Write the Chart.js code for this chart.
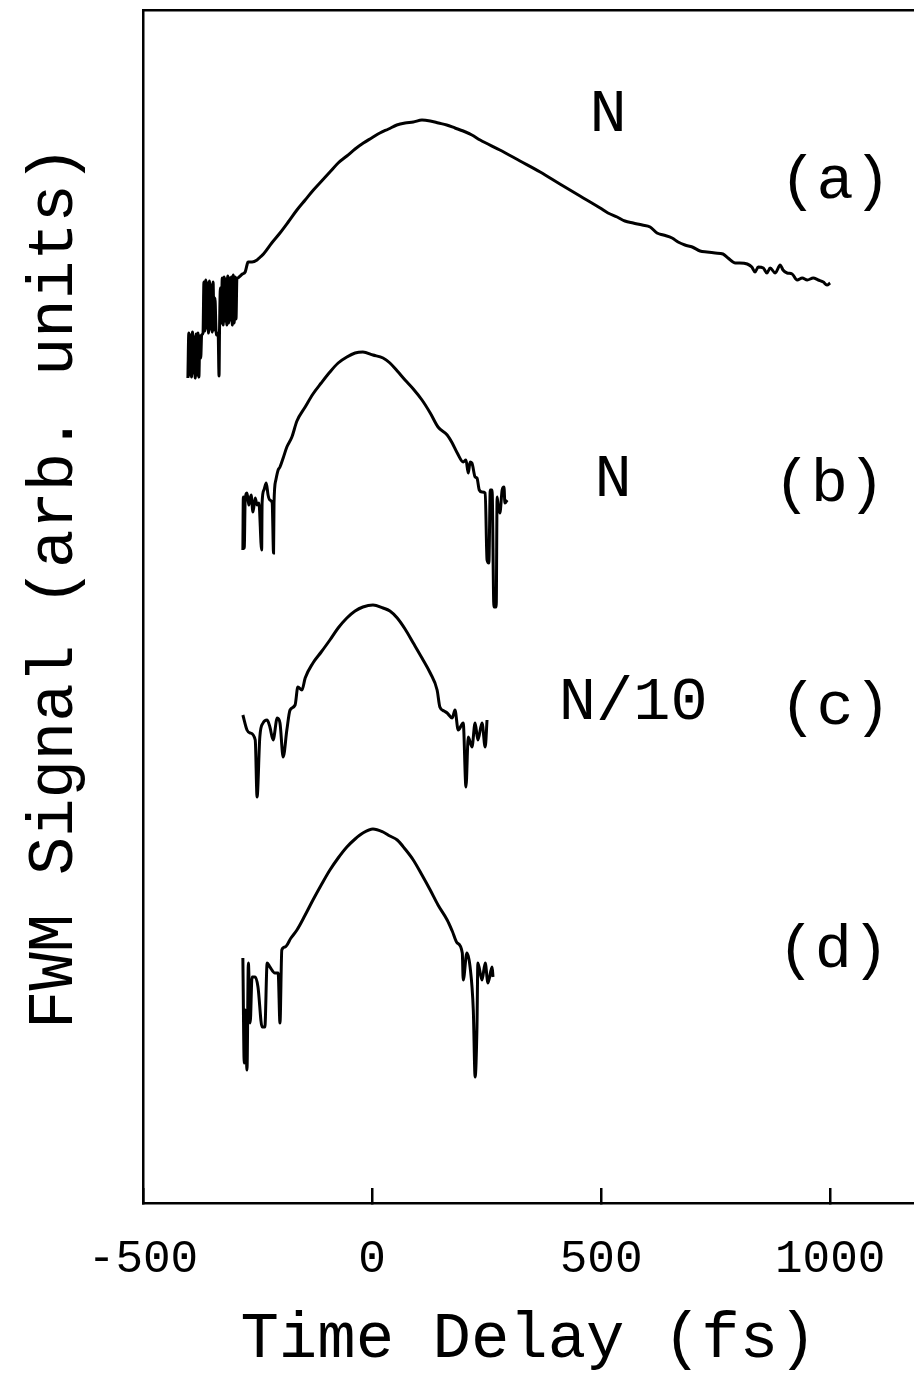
<!DOCTYPE html>
<html>
<head>
<meta charset="utf-8">
<script src="https://cdn.jsdelivr.net/npm/chart.js@4.4.1/dist/chart.umd.min.js"></script>
<style>
  html, body { margin: 0; padding: 0; background: #fff; overflow: hidden; }
  #wrap { width: 914px; height: 1384px; position: relative; }
</style>
</head>
<body>
<div id="wrap"><canvas id="c"></canvas></div>
<script>
// ---- Data (time delay in fs, FWM signal in arbitrary units with vertical offsets) ----
const aTime = [-402,-400,-398,-396,-394,-392,-390,-388,-386,-384,-382,-380,-378,-376,-374,-372,
  -369,-367,-365,-363,-361,-359,-357,-355,-353,-351,-349,-347,-345,-343,-340,-336,-334,-333,
  -331,-329,-327,-325,-323,-321,-319,-317,-315,-313,-311,-309,-307,-305,-303,-301,-299,-297,-295,-293,
  -288,-283,-277,-273,-271,-262,-251,-244,
  -237,-219,-201,-183,-164,-146,-128,-110,-92,-74,-55,-37,-19,-1,17,36,54,72,90,109,127,145,163,181,199,218,236,
  279,323,367,410,454,498,515,535,552,570,590,607,622,636,655,668,683,699,716,731,749,766,777,793,803,819,829,836,843,854,862,869,880,891,897,906,917,928,939,950,963,974,985,993,1000];
const aSignal = [825,870,828,868,826,871,830,866,825,869,828,870,826,867,845,868,
  870,921,872,923,875,920,870,922,874,918,871,921,873,905,868,870,827,871,
  915,880,925,878,926,882,924,878,927,880,925,883,926,878,928,880,926,884,925,925,
  927,929,931,938,941,941,943,946,
  949,960,970,981,993,1003,1013,1022,1031,1040,1047,1054,1060,1065,1070,1074,1078,1080,1081,1083,1082,1080,1078,1075,1072,1068,1063,
  1053,1042,1031,1019,1007,995,990,986,982,980,978,976,970,968,965,961,958,956,952,951,950,949,945,940,940,939,936,931,936,935,930,935,930,938,933,930,929,923,925,923,925,923,921,918,920];

const bTime = [-282,-281,-279,-277,-273,-269,-264,-260,-255,-251,-247,-241,-240,-236,-231,-227,-223,-218,-215,-214,-210,-205,-201,-194,-186,-175,-164,-146,-129,-111,-92,-74,-55,-37,-20,2,24,39,55,72,90,109,127,144,164,175,186,199,205,210,214,218,225,229,234,240,247,251,255,258,262,266,271,273,275,279,284,288,290,295,301];
const bSignal = [653,706,655,703,710,698,708,691,705,698,700,653,700,713,720,708,703,700,650,700,723,733,736,745,756,766,782,796,809,820,831,840,846,850,851,848,845,840,832,823,814,803,790,776,768,760,750,741,743,730,741,740,726,725,713,711,710,643,640,713,713,596,596,706,698,690,713,716,700,703];

const cTime = [-282,-273,-266,-255,-251,-245,-238,-229,-223,-216,-207,-201,-194,-186,-179,-168,-162,-153,-146,-129,-111,-92,-74,-55,-37,-20,2,24,39,55,72,90,109,127,142,148,157,164,175,181,188,199,205,210,218,225,231,240,247,251];
const cSignal = [488,473,470,463,406,466,480,483,476,463,485,480,446,473,493,498,516,513,525,540,551,563,575,585,592,596,598,595,592,585,574,560,545,530,513,496,492,490,485,493,473,480,416,466,456,480,463,480,456,483];

const dTime = [-282,-279,-277,-273,-270,-266,-262,-255,-249,-240,-234,-229,-223,-212,-205,-201,-197,-190,-177,-164,-146,-129,-111,-92,-74,-55,-37,-20,2,24,39,55,72,90,109,127,144,164,175,186,197,199,207,214,221,225,229,231,240,247,253,262,264];
const dSignal = [245,140,193,133,240,180,226,226,216,176,176,240,236,230,230,180,253,256,265,273,288,303,318,333,345,356,364,370,374,371,367,363,354,343,328,313,298,283,272,260,250,223,250,236,193,126,176,240,223,240,220,236,226];

const xTicks = [-500, 0, 500, 1000];
const xTitle = 'Time Delay (fs)';
const yTitle = ' FWM Signal (arb. units)';
const labelTexts = ['N', '(a)', 'N', '(b)', 'N/10', '(c)', '(d)'];
const labelTimes = [515, 1011, 526, 998, 570, 1011, 1007];
const labelSignals = [1088, 1021, 723, 718, 500, 495, 252];

// ---- Chart ----
const FONT = "'Liberation Mono', 'DejaVu Sans Mono', monospace";
const toPts = (xs, ys) => xs.map((x, i) => ({ x: x, y: ys[i] }));
const lineStyle = { borderColor: '#000', borderWidth: 3, pointRadius: 0, cubicInterpolationMode: 'monotone', fill: false };

const bgAndLabels = {
  id: 'bgAndLabels',
  beforeDraw(chart) {
    const ctx = chart.ctx;
    ctx.save();
    ctx.fillStyle = '#fff';
    ctx.fillRect(0, 0, chart.width, chart.height);
    ctx.restore();
  },
  afterDatasetsDraw(chart) {
    const ctx = chart.ctx;
    const xs = chart.scales.x, ys = chart.scales.y;
    ctx.save();
    ctx.fillStyle = '#000';
    ctx.font = '62px ' + FONT;
    ctx.textAlign = 'center';
    ctx.textBaseline = 'middle';
    labelTexts.forEach((t, i) => {
      ctx.fillText(t, xs.getPixelForValue(labelTimes[i]), ys.getPixelForValue(labelSignals[i]));
    });
    ctx.restore();
  }
};

new Chart(document.getElementById('c'), {
  type: 'line',
  data: {
    datasets: [
      Object.assign({ label: '(a) N', data: toPts(aTime, aSignal) }, lineStyle),
      Object.assign({ label: '(b) N', data: toPts(bTime, bSignal) }, lineStyle),
      Object.assign({ label: '(c) N/10', data: toPts(cTime, cSignal) }, lineStyle),
      Object.assign({ label: '(d)', data: toPts(dTime, dSignal) }, lineStyle)
    ]
  },
  options: {
    responsive: true,
    maintainAspectRatio: false,
    animation: false,
    layout: { padding: 0 },
    plugins: { legend: { display: false }, tooltip: { enabled: false } },
    scales: {
      x: {
        type: 'linear',
        position: 'bottom',
        min: -500,
        max: 1183,
        afterBuildTicks: (s) => { s.ticks = xTicks.map(v => ({ value: v })); },
        afterFit: (s) => { s.height = 181; s.paddingLeft = 0; s.paddingRight = 0; },
        ticks: {
          color: '#000',
          font: { family: FONT, size: 46 },
          padding: 44,
          maxRotation: 0,
          autoSkip: false,
          callback: (v) => String(v)
        },
        grid: {
          display: true,
          drawOnChartArea: false,
          drawTicks: true,
          tickLength: -15,
          color: '#000',
          lineWidth: 2.5
        },
        border: { display: true, color: '#000', width: 2.5 },
        title: {
          display: true,
          text: xTitle,
          color: '#000',
          font: { family: FONT, size: 64 },
          padding: { top: 0, bottom: 6 }
        }
      },
      xTop: {
        type: 'linear',
        position: 'top',
        min: -500,
        max: 1183,
        afterFit: (s) => { s.height = 10; s.paddingLeft = 0; s.paddingRight = 0; },
        ticks: { display: false },
        grid: { display: false },
        border: { display: true, color: '#000', width: 2.5 }
      },
      y: {
        type: 'linear',
        position: 'left',
        min: 0,
        max: 1193,
        afterFit: (s) => { s.width = 143; s.paddingTop = 0; s.paddingBottom = 0; },
        ticks: { display: false },
        grid: { display: false },
        border: { display: true, color: '#000', width: 2.5 },
        title: {
          display: true,
          text: yTitle,
          color: '#000',
          font: { family: FONT, size: 64 },
          padding: { top: 17, bottom: 0 }
        }
      }
    }
  },
  plugins: [bgAndLabels]
});
</script>
</body>
</html>
